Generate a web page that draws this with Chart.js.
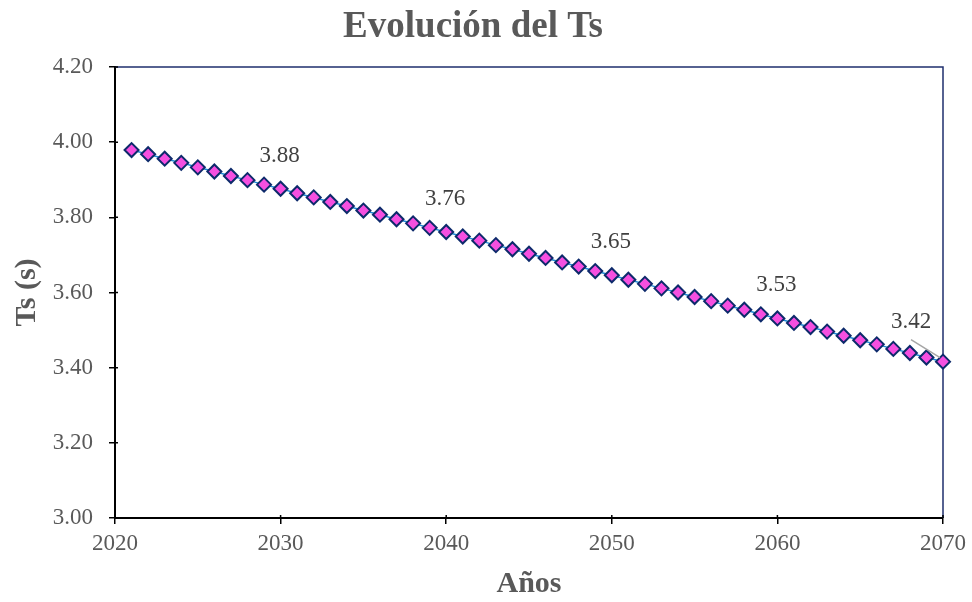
<!DOCTYPE html>
<html>
<head>
<meta charset="utf-8">
<script src="https://cdn.jsdelivr.net/npm/chart.js@4"></script>
<style>
  html, body { margin: 0; padding: 0; background: #fff; }
  #wrap { width: 972px; height: 602px; }
</style>
</head>
<body>
<div id="wrap"><canvas id="chart" width="972" height="602"></canvas></div>
<script>
const anni = [2021, 2022, 2023, 2024, 2025, 2026, 2027, 2028, 2029, 2030,
  2031, 2032, 2033, 2034, 2035, 2036, 2037, 2038, 2039, 2040,
  2041, 2042, 2043, 2044, 2045, 2046, 2047, 2048, 2049, 2050,
  2051, 2052, 2053, 2054, 2055, 2056, 2057, 2058, 2059, 2060,
  2061, 2062, 2063, 2064, 2065, 2066, 2067, 2068, 2069, 2070];
const ts = [3.979, 3.968, 3.956, 3.945, 3.933, 3.922, 3.910, 3.899, 3.887, 3.876,
  3.864, 3.853, 3.841, 3.830, 3.818, 3.807, 3.795, 3.784, 3.772, 3.761,
  3.749, 3.738, 3.726, 3.715, 3.703, 3.692, 3.680, 3.669, 3.657, 3.646,
  3.634, 3.623, 3.611, 3.600, 3.588, 3.577, 3.565, 3.554, 3.542, 3.531,
  3.519, 3.508, 3.496, 3.485, 3.473, 3.462, 3.450, 3.439, 3.427, 3.416];
const anniEtichetta = [2030, 2040, 2050, 2060, 2070];
const tickAnni = [2020, 2030, 2040, 2050, 2060, 2070];
const tickTs = [3.00, 3.20, 3.40, 3.60, 3.80, 4.00, 4.20];

const serif = "'Liberation Serif', 'Times New Roman', serif";
const grigio = '#595959';

// bordo blu sopra e a destra, tacche incrociate
const bordo = {
  id: 'bordo',
  beforeDatasetsDraw(chart) {
    const { ctx, chartArea: a } = chart;
    ctx.save();
    ctx.strokeStyle = '#1f2f6e';
    ctx.lineWidth = 1.5;
    ctx.beginPath();
    ctx.moveTo(a.left, a.top);
    ctx.lineTo(a.right, a.top);
    ctx.lineTo(a.right, a.bottom);
    ctx.stroke();
    ctx.strokeStyle = '#000';
    ctx.lineWidth = 1.5;
    ctx.beginPath();
    chart.scales.y.ticks.forEach(t => {
      const y = chart.scales.y.getPixelForValue(t.value);
      ctx.moveTo(a.left, y); ctx.lineTo(a.left + 3, y);
    });
    chart.scales.x.ticks.forEach(t => {
      const x = chart.scales.x.getPixelForValue(t.value);
      ctx.moveTo(x, a.bottom); ctx.lineTo(x, a.bottom - 3);
    });
    ctx.stroke();
    ctx.restore();
  }
};

// etichette dei valori
const etichette = {
  id: 'etichette',
  afterDatasetsDraw(chart) {
    const { ctx } = chart;
    const sx = chart.scales.x, sy = chart.scales.y;
    ctx.save();
    ctx.font = '23px ' + serif;
    ctx.fillStyle = '#404040';
    ctx.textAlign = 'center';
    ctx.textBaseline = 'middle';
    anniEtichetta.forEach(anno => {
      const i = anni.indexOf(anno);
      const v = ts[i];
      const x = sx.getPixelForValue(anno);
      const y = sy.getPixelForValue(v);
      if (i === anni.length - 1) {
        ctx.strokeStyle = '#a6a6a6';
        ctx.lineWidth = 1.5;
        ctx.beginPath();
        ctx.moveTo(x - 32, y - 22);
        ctx.lineTo(x - 3, y - 4);
        ctx.stroke();
        ctx.fillText(v.toFixed(2), x - 32, y - 40);
      } else {
        ctx.fillText(v.toFixed(2), x - 1, y - 33);
      }
    });
    ctx.restore();
  }
};

new Chart(document.getElementById('chart'), {
  type: 'line',
  data: {
    labels: anni,
    datasets: [{
      data: anni.map((a, i) => ({ x: a, y: ts[i] })),
      borderColor: '#1e88d4',
      borderWidth: 1.5,
      pointStyle: 'rectRot',
      pointRadius: 7,
      pointBackgroundColor: '#f54fe0',
      pointBorderColor: '#0d2a6b',
      pointBorderWidth: 2,
      clip: false,
      tension: 0
    }]
  },
  options: {
    responsive: false,
    animation: false,
    layout: { padding: { top: 0, right: 26, bottom: 0, left: 0 } },
    plugins: {
      legend: { display: false },
      tooltip: { enabled: false },
      title: {
        display: true,
        text: 'Evolución del Ts',
        color: grigio,
        font: { family: serif, size: 37, weight: 'bold' },
        padding: { top: 5, bottom: 17.6 }
      }
    },
    scales: {
      x: {
        type: 'linear',
        min: 2020,
        max: 2070,
        afterFit: s => { s.height = 84; },
        afterBuildTicks: s => { s.ticks = tickAnni.map(v => ({ value: v })); },
        ticks: {
          color: grigio,
          font: { family: serif, size: 23 },
          padding: 6,
          callback: v => String(v)
        },
        grid: { display: true, drawOnChartArea: false, color: '#000', lineWidth: 1.5, tickLength: 6 },
        border: { color: '#000', width: 2 },
        title: {
          display: true,
          text: 'Años',
          color: grigio,
          font: { family: serif, size: 30, weight: 'bold' },
          padding: { top: 0, bottom: 0 }
        }
      },
      y: {
        min: 3.0,
        max: 4.2,
        afterFit: s => { s.width = 115; },
        afterBuildTicks: s => { s.ticks = tickTs.map(v => ({ value: v })); },
        ticks: {
          color: grigio,
          font: { family: serif, size: 23 },
          padding: 16,
          callback: v => v.toFixed(2)
        },
        grid: { display: true, drawOnChartArea: false, color: '#000', lineWidth: 1.5, tickLength: 6 },
        border: { color: '#000', width: 2 },
        title: {
          display: true,
          text: 'Ts (s)',
          color: grigio,
          font: { family: serif, size: 30, weight: 'bold' },
          padding: { top: 9, bottom: 9 }
        }
      }
    }
  },
  plugins: [bordo, etichette]
});
</script>
</body>
</html>
